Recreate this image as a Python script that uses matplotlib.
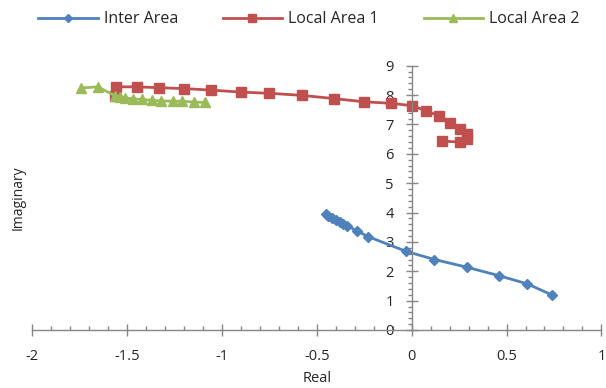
import matplotlib.pyplot as plt
from matplotlib.ticker import MultipleLocator

plt.rcParams['font.family'] = ['Open Sans', 'DejaVu Sans']

# eigenvalues (real, imaginary)
inter_re = [-0.45, -0.44, -0.42, -0.40, -0.38, -0.36, -0.34, -0.29, -0.23, -0.03, 0.12, 0.29, 0.46, 0.61, 0.74]
inter_im = [3.94, 3.89, 3.83, 3.76, 3.69, 3.62, 3.55, 3.38, 3.18, 2.68, 2.40, 2.14, 1.85, 1.57, 1.19]

local1_re = [-1.565, -1.56, -1.45, -1.33, -1.20, -1.06, -0.90, -0.75, -0.58, -0.41, -0.25, -0.11, 0.0,
             0.075, 0.145, 0.20, 0.255, 0.29, 0.29, 0.255, 0.16]
local1_im = [7.97, 8.28, 8.28, 8.25, 8.22, 8.17, 8.10, 8.06, 7.99, 7.88, 7.77, 7.72, 7.64,
             7.47, 7.28, 7.06, 6.86, 6.66, 6.51, 6.40, 6.43]

local2_re = [-1.745, -1.655, -1.565, -1.54, -1.51, -1.47, -1.42, -1.37, -1.32, -1.26, -1.21, -1.15, -1.09]
local2_im = [8.24, 8.28, 7.98, 7.94, 7.90, 7.87, 7.85, 7.82, 7.80, 7.79, 7.79, 7.76, 7.75]

xtick_vals = [-2, -1.5, -1, -0.5, 0, 0.5, 1]
xtick_text = ['-2', '-1.5', '-1', '-0.5', '0', '0.5', '1']

axis_col = '#868686'
text_col = '#262626'

fig = plt.figure(figsize=(6.06, 3.88), dpi=100)
ax = fig.add_axes([0.0533, 0.1495, 0.9391, 0.6812])

ax.plot(inter_re, inter_im, color='#4F81BD', lw=2, marker='D', ms=5.5, label='Inter Area')
ax.plot(local1_re, local1_im, color='#C0504D', lw=2, marker='s', ms=7, label='Local Area 1')
ax.plot(local2_re, local2_im, color='#9BBB59', lw=2, marker='^', ms=7, label='Local Area 2')

ax.set_xlim(-2, 1)
ax.set_ylim(0, 9)

# axes cross at the origin, like the Excel chart
ax.spines['left'].set_position(('data', 0))
ax.spines['bottom'].set_position(('data', 0))
ax.spines['top'].set_visible(False)
ax.spines['right'].set_visible(False)
for s in ('left', 'bottom'):
    ax.spines[s].set_color(axis_col)
    ax.spines[s].set_linewidth(1)

ax.set_xticks(xtick_vals)
ax.set_xticklabels(xtick_text)
ax.xaxis.set_minor_locator(MultipleLocator(0.1))
ax.yaxis.set_major_locator(MultipleLocator(1))
ax.yaxis.set_minor_locator(MultipleLocator(0.2))

ax.tick_params(axis='x', which='major', direction='inout', length=8, width=1, color=axis_col,
               labelsize=10.5, labelcolor=text_col, pad=10)
ax.tick_params(axis='x', which='minor', direction='in', length=3, width=1, color=axis_col)
ax.tick_params(axis='y', which='major', direction='inout', length=8, width=1, color=axis_col,
               labelsize=10.5, labelcolor=text_col, pad=9)
ax.tick_params(axis='y', which='minor', direction='out', length=3, width=1, color=axis_col)

ax.set_xlabel('Real', fontsize=10.5, color=text_col, labelpad=5)
fig.text(0.03, 0.49, 'Imaginary', rotation=90, ha='center', va='center', fontsize=10, color=text_col)

fig.legend(loc='center', bbox_to_anchor=(0.51, 0.95), ncol=3, frameon=False, fontsize=11.5,
           handlelength=3.7, columnspacing=2.8, handletextpad=0.4, markerscale=0.75,
           labelcolor=text_col)

fig.savefig('out.png', dpi=100)
